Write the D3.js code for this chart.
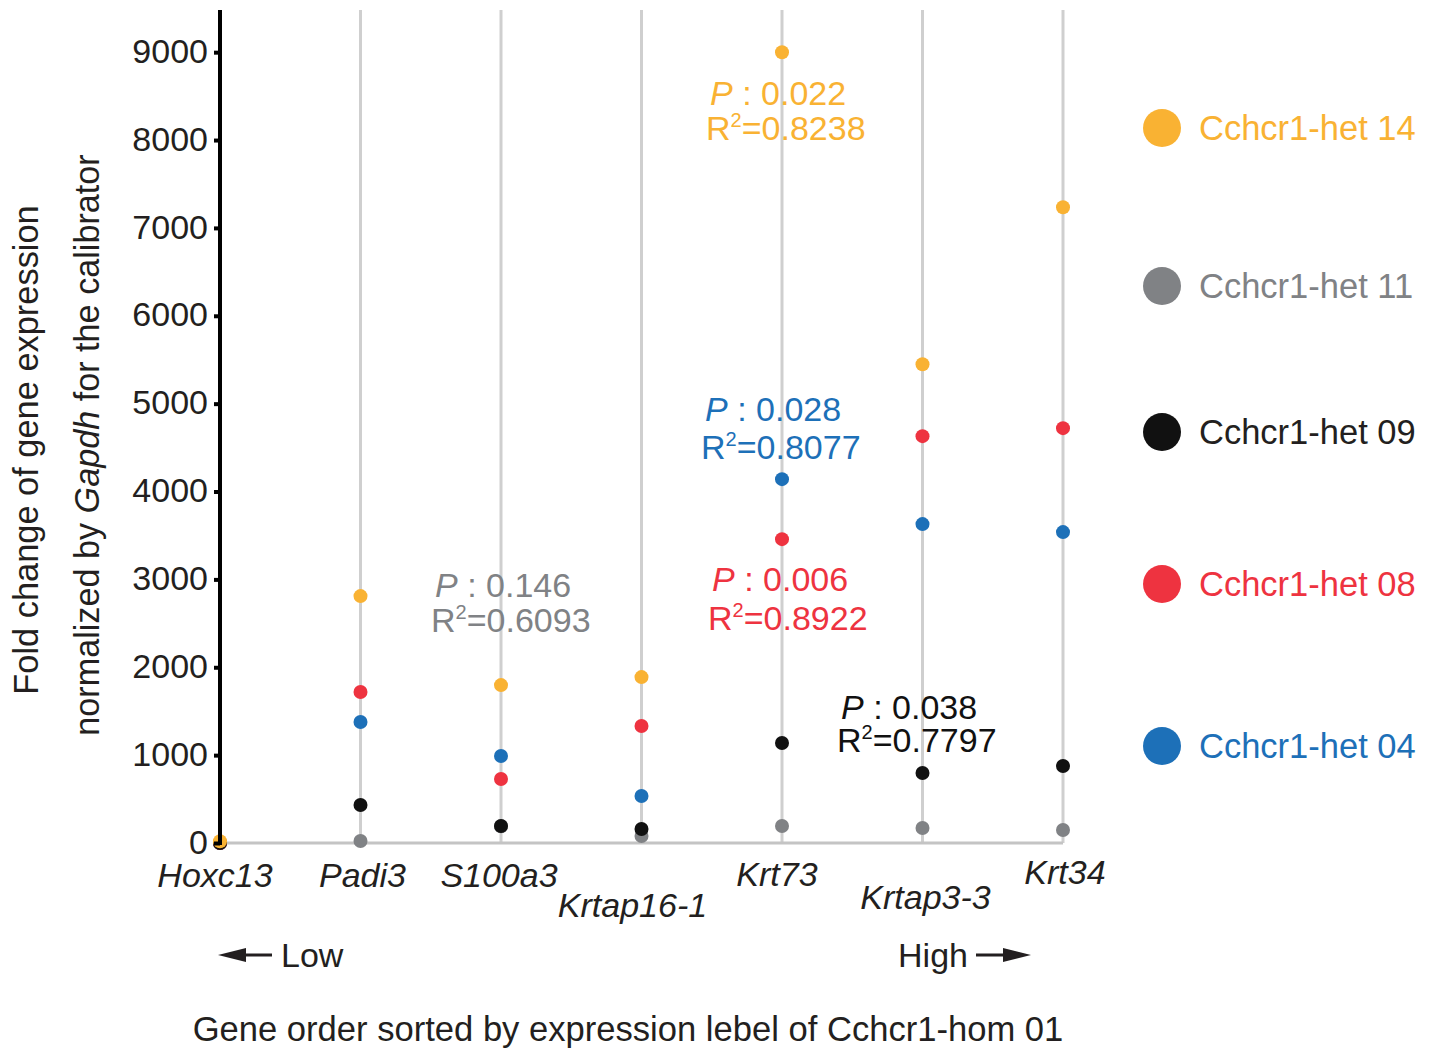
<!DOCTYPE html>
<html><head><meta charset="utf-8">
<script src="https://cdn.jsdelivr.net/npm/d3@7"></script>
<style>body{margin:0;background:#fff}svg text{font-family:"Liberation Sans",Arial,Helvetica,sans-serif}</style>
</head><body><svg id="c" width="1435" height="1050"></svg>
<script>
const genes = ["Hoxc13","Padi3","S100a3","Krtap16-1","Krt73","Krtap3-3","Krt34"];
const seriesNames = ["Cchcr1-het 14","Cchcr1-het 11","Cchcr1-het 09","Cchcr1-het 08","Cchcr1-het 04"];
const seriesColors = ["#F9B233","#808285","#111111","#EE3340","#1D70B8"];
const het14 = [20, 2810, 1797, 1888, 9000, 5449, 7235];
const het11 = [0, 23, 190, 80, 193, 171, 148];
const het09 = [0, 432, 193, 159, 1138, 796, 876];
const het08 = [0, 1718, 728, 1331, 3458, 4630, 4721];
const het04 = [0, 1377, 990, 535, 4141, 3629, 3538];
const yTicks = [0,1000,2000,3000,4000,5000,6000,7000,8000,9000];
const stats = [
  {s:"Cchcr1-het 14", p:"0.022", r2:"0.8238"},
  {s:"Cchcr1-het 11", p:"0.146", r2:"0.6093"},
  {s:"Cchcr1-het 04", p:"0.028", r2:"0.8077"},
  {s:"Cchcr1-het 08", p:"0.006", r2:"0.8922"},
  {s:"Cchcr1-het 09", p:"0.038", r2:"0.7797"}
];
const seriesValues = [het14, het11, het09, het08, het04];

const svg = d3.select("#c");
const FS = 34;
const x = d3.scalePoint().domain(genes).range([220, 1063]);
const y = d3.scaleLinear().domain([0, 9480]).range([843, 10]);
const color = d3.scaleOrdinal().domain(seriesNames).range(seriesColors);

// vertical gene lines
svg.append("g").selectAll("line").data(genes).join("line")
  .attr("x1", d => x(d)).attr("x2", d => x(d))
  .attr("y1", y(9480)).attr("y2", y(0))
  .attr("stroke", "#cfcfcf").attr("stroke-width", 3);
// baseline
svg.append("line").attr("x1", x(genes[0])).attr("x2", x(genes[genes.length-1]))
  .attr("y1", y(0)).attr("y2", y(0)).attr("stroke", "#c4c4c4").attr("stroke-width", 3);

// dots: draw order
const order = ["Cchcr1-het 11","Cchcr1-het 04","Cchcr1-het 08","Cchcr1-het 09","Cchcr1-het 14"];
order.forEach(name => {
  const vals = seriesValues[seriesNames.indexOf(name)];
  svg.append("g").selectAll("circle").data(genes).join("circle")
    .attr("cx", d => x(d)).attr("cy", (d,i) => y(vals[i])).attr("r", 7)
    .attr("fill", color(name));
});

// y axis
const yAxis = d3.axisLeft(y).tickValues(yTicks).tickSize(6).tickPadding(6).tickFormat(d3.format("d"));
const ga = svg.append("g").attr("transform", "translate(220,0)").call(yAxis);
ga.select(".domain").attr("d", `M0,${y(9480)}V${y(0)+2}`).attr("stroke", "#000").attr("stroke-width", 4);
ga.selectAll(".tick line").attr("stroke", "#000").attr("stroke-width", 4);
ga.selectAll(".tick text").attr("font-size", FS).attr("fill", "#231f20").attr("dy", "0.3em")
  .style("font-family", '"Liberation Sans",Arial,sans-serif');

// gene labels
const labelY = {"Hoxc13":887,"Padi3":887,"S100a3":887,"Krtap16-1":917,"Krt73":886,"Krtap3-3":909,"Krt34":884};
const labelDx = {"Hoxc13":-5,"Padi3":2,"S100a3":-2,"Krtap16-1":-9,"Krt73":-5,"Krtap3-3":3,"Krt34":2};
svg.append("g").selectAll("text").data(genes).join("text")
  .attr("x", d => x(d) + labelDx[d]).attr("y", d => labelY[d])
  .attr("text-anchor", "middle").attr("font-size", FS).attr("font-style", "italic")
  .attr("fill", "#231f20").text(d => d);

// stat annotations
const statPos = {
  "Cchcr1-het 14": {x:708, y1:105, y2:140},
  "Cchcr1-het 11": {x:433, y1:597, y2:632},
  "Cchcr1-het 04": {x:703, y1:421, y2:459},
  "Cchcr1-het 08": {x:710, y1:591, y2:630},
  "Cchcr1-het 09": {x:839, y1:719, y2:752}
};
stats.forEach(st => {
  const pos = statPos[st.s];
  const c = color(st.s);
  const t1 = svg.append("text").attr("x", pos.x + 2).attr("y", pos.y1).attr("font-size", FS).attr("fill", c);
  t1.append("tspan").attr("font-style", "italic").text("P");
  t1.append("tspan").text(" : " + st.p);
  const t2 = svg.append("text").attr("x", pos.x - 2).attr("y", pos.y2).attr("font-size", FS).attr("fill", c);
  t2.append("tspan").text("R");
  t2.append("tspan").attr("font-size", 20).attr("dy", -13).text("2");
  t2.append("tspan").attr("dy", 13).text("=" + st.r2);
});

// legend
const legY = [128, 286, 432, 584, 746];
const lg = svg.append("g").selectAll("g").data(seriesNames).join("g")
  .attr("transform", (d,i) => `translate(1162,${legY[i]})`);
lg.append("circle").attr("r", 19).attr("fill", d => color(d));
lg.append("text").attr("x", 37).attr("y", 12).attr("font-size", 34.5)
  .attr("fill", d => d === "Cchcr1-het 09" ? "#231f20" : color(d)).text(d => d);

// Low / High arrows
function arrow(x1, x2, yy) {
  const dir = Math.sign(x2 - x1);
  svg.append("line").attr("x1", x1).attr("x2", x2 - dir*22).attr("y1", yy).attr("y2", yy)
    .attr("stroke", "#231f20").attr("stroke-width", 3);
  svg.append("path").attr("d", `M${x2},${yy}L${x2 - dir*28},${yy-7}L${x2 - dir*28},${yy+7}Z`).attr("fill", "#231f20");
}
arrow(272, 218, 955);
svg.append("text").attr("x", 281).attr("y", 967).attr("font-size", FS).attr("fill", "#231f20").text("Low");
arrow(976, 1031, 955);
svg.append("text").attr("x", 968).attr("y", 967).attr("text-anchor", "end").attr("font-size", FS).attr("fill", "#231f20").text("High");

// x title
svg.append("text").attr("x", 628).attr("y", 1041).attr("text-anchor", "middle").attr("font-size", 34.6)
  .attr("fill", "#231f20").text("Gene order sorted by expression lebel of Cchcr1-hom 01");

// y title
const yt = svg.append("g");
yt.append("text").attr("transform", "translate(38,450) rotate(-90)").attr("text-anchor", "middle")
  .attr("font-size", 34.4).attr("fill", "#231f20").text("Fold change of gene expression");
const yt2 = yt.append("text").attr("transform", "translate(99,445) rotate(-90)").attr("text-anchor", "middle")
  .attr("font-size", 34.2).attr("fill", "#231f20");
yt2.append("tspan").text("normalized by ");
yt2.append("tspan").attr("font-style", "italic").text("Gapdh");
yt2.append("tspan").text(" for the calibrator");
</script></body></html>
